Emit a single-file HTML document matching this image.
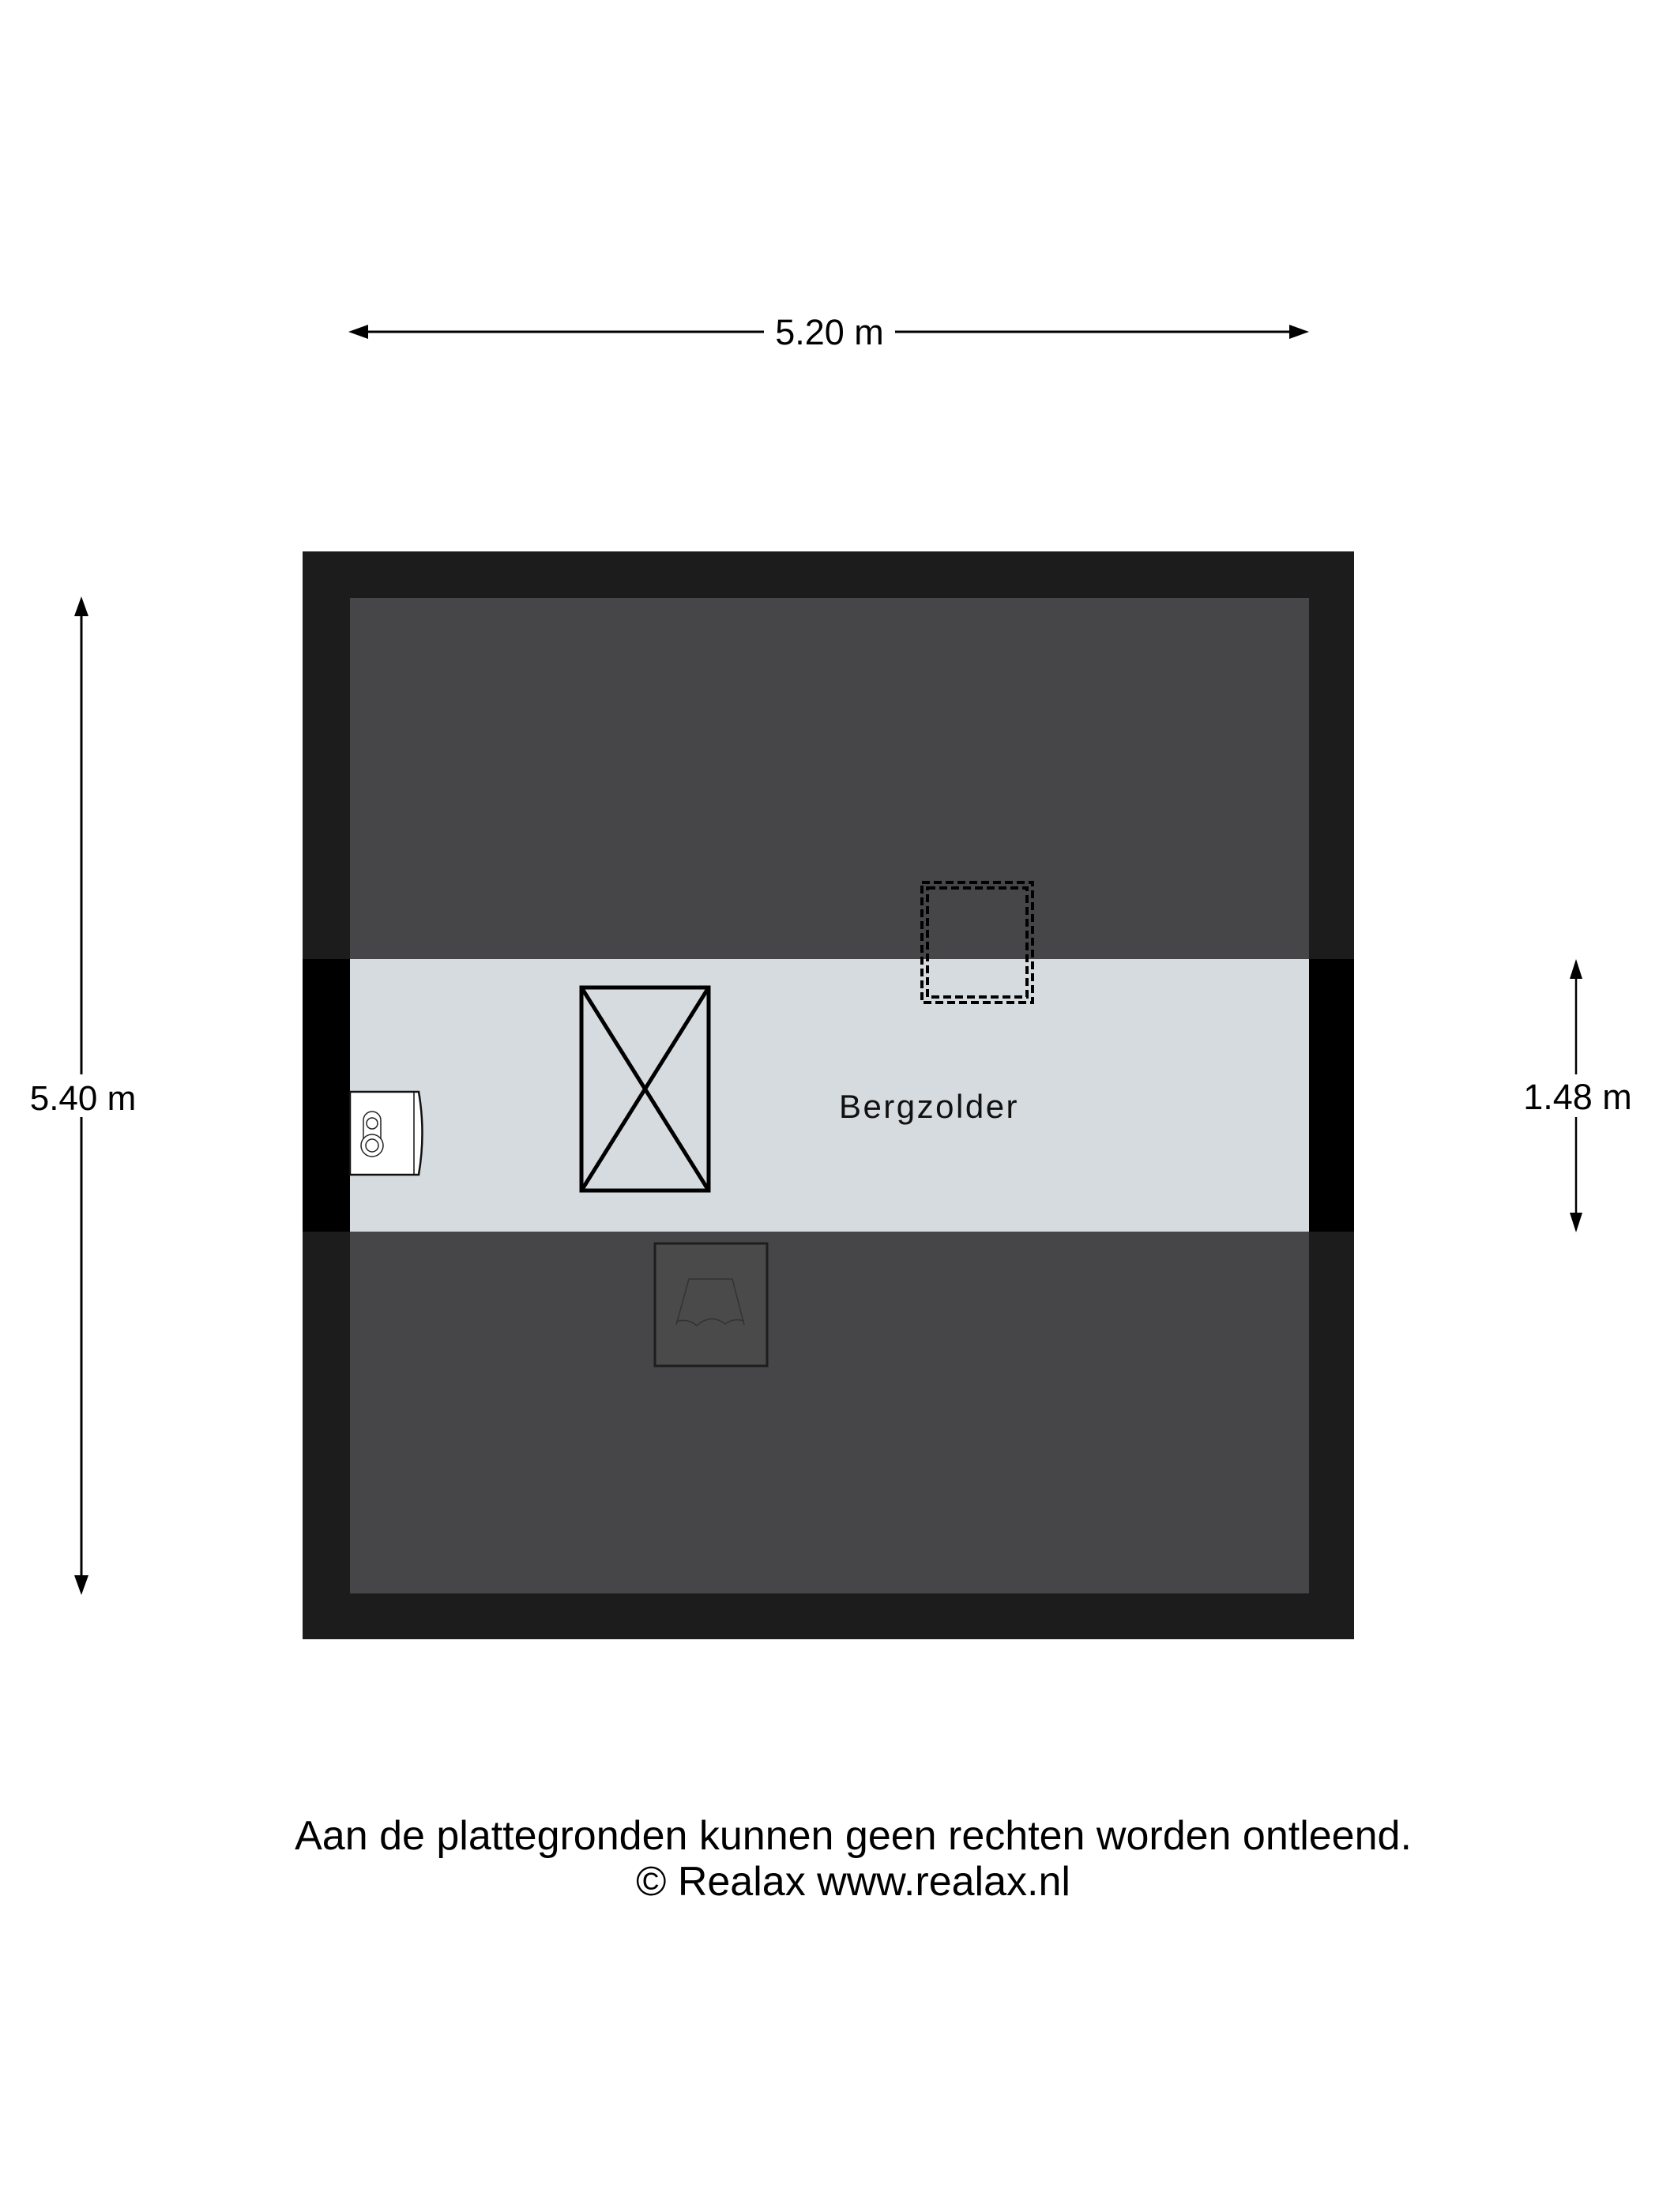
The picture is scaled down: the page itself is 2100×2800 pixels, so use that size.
<!DOCTYPE html>
<html><head><meta charset="utf-8"><style>
html,body{margin:0;padding:0;background:#fff;}
svg{display:block;}
</style></head><body>
<svg width="2100" height="2800" viewBox="0 0 2100 2800" xmlns="http://www.w3.org/2000/svg">
<rect width="2100" height="2800" fill="#fff"/>
<!-- outer walls -->
<rect x="383" y="698" width="1331" height="1377" fill="#1c1c1c"/>
<rect x="443" y="757" width="1214" height="1260" fill="#464648"/>
<!-- light band -->
<rect x="383" y="1214" width="60" height="345" fill="#000"/>
<rect x="1657" y="1214" width="57" height="345" fill="#000"/>
<rect x="443" y="1214" width="1214" height="345" fill="#d6dbdf"/>
<!-- toilet -->
<path d="M443 1382 H530 Q539 1434 530 1487 H443 Z" fill="#fff" stroke="#111" stroke-width="2.5"/>
<line x1="524" y1="1383" x2="524" y2="1486" stroke="#111" stroke-width="1.5"/>
<path d="M460 1418 a11 11 0 0 1 22 0 v24" fill="none" stroke="#222" stroke-width="1.5"/>
<path d="M460 1418 v24" fill="none" stroke="#222" stroke-width="1.5"/>
<circle cx="471" cy="1422" r="7" fill="none" stroke="#222" stroke-width="1.5"/>
<circle cx="471" cy="1450" r="8" fill="none" stroke="#222" stroke-width="1.5"/>
<circle cx="471" cy="1450" r="14" fill="none" stroke="#222" stroke-width="1.5"/>
<!-- X box -->
<rect x="736" y="1250" width="161" height="257" fill="none" stroke="#000" stroke-width="5"/>
<line x1="736" y1="1250" x2="897" y2="1507" stroke="#000" stroke-width="5"/>
<line x1="897" y1="1250" x2="736" y2="1507" stroke="#000" stroke-width="5"/>
<!-- dashed box -->
<rect x="1167" y="1117" width="140" height="152" fill="none" stroke="#000" stroke-width="4" stroke-dasharray="10 5"/>
<rect x="1174" y="1124" width="126" height="138" fill="none" stroke="#000" stroke-width="4" stroke-dasharray="10 5"/>
<!-- stairs box -->
<rect x="829" y="1574" width="142" height="155" fill="#4a4a4b" stroke="#1e1e1e" stroke-width="3"/>
<path d="M872 1619 H927 L942 1677 M872 1619 L856 1677" fill="none" stroke="#333" stroke-width="1.5"/>
<path d="M856 1673 Q870 1668 882 1678 Q900 1662 918 1676 Q928 1668 942 1672" fill="none" stroke="#333" stroke-width="1.5"/>
<!-- label -->
<text x="1176" y="1415" font-family="Liberation Sans, sans-serif" font-size="42" letter-spacing="2.5" text-anchor="middle" fill="#111">Bergzolder</text>
<!-- top dimension -->
<line x1="452" y1="420" x2="967" y2="420" stroke="#000" stroke-width="3"/>
<line x1="1133" y1="420" x2="1646" y2="420" stroke="#000" stroke-width="3"/>
<polygon points="441,420 466,411 466,429" fill="#000"/>
<polygon points="1657,420 1632,411 1632,429" fill="#000"/>
<text x="1050" y="436" font-family="Liberation Sans, sans-serif" font-size="45" text-anchor="middle" fill="#000">5.20 m</text>
<!-- left dimension -->
<line x1="103" y1="765" x2="103" y2="1360" stroke="#000" stroke-width="3"/>
<line x1="103" y1="1414" x2="103" y2="2009" stroke="#000" stroke-width="3"/>
<polygon points="103,755 94,780 112,780" fill="#000"/>
<polygon points="103,2019 94,1994 112,1994" fill="#000"/>
<text x="105" y="1405" font-family="Liberation Sans, sans-serif" font-size="44" text-anchor="middle" fill="#000">5.40 m</text>
<!-- right dimension -->
<line x1="1995" y1="1225" x2="1995" y2="1360" stroke="#000" stroke-width="2.5"/>
<line x1="1995" y1="1414" x2="1995" y2="1550" stroke="#000" stroke-width="2.5"/>
<polygon points="1995,1214 1987,1239 2003,1239" fill="#000"/>
<polygon points="1995,1560 1987,1535 2003,1535" fill="#000"/>
<text x="1997" y="1404" font-family="Liberation Sans, sans-serif" font-size="45" text-anchor="middle" fill="#000">1.48 m</text>
<!-- footer -->
<text x="1080" y="2341" font-family="Liberation Sans, sans-serif" font-size="52" text-anchor="middle" fill="#000">Aan de plattegronden kunnen geen rechten worden ontleend.</text>
<text x="1080" y="2399" font-family="Liberation Sans, sans-serif" font-size="52" text-anchor="middle" fill="#000">© Realax www.realax.nl</text>
</svg>
</body></html>
